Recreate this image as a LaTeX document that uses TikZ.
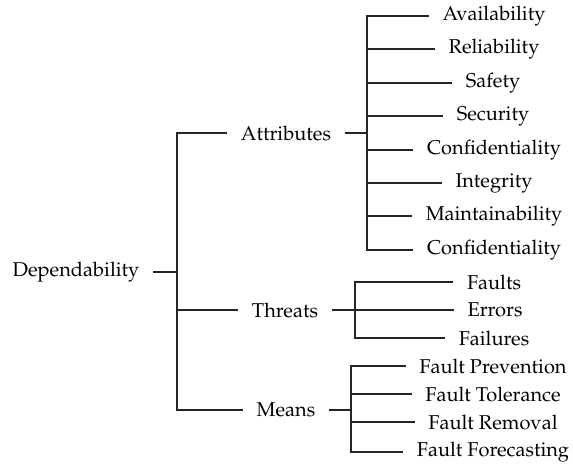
\documentclass[tikz,border=0pt]{standalone}
\usepackage[T1]{fontenc}
\usepackage{mathpazo}
\begin{document}
\begin{tikzpicture}[x=0.75pt,y=-0.75pt]
\tikzstyle edge=[line width=1.4pt, black!85];
\tikzstyle term=[inner xsep=10pt, inner ysep=2pt, font=\fontsize{15}{18}\selectfont, text=black];
\useasboundingbox (0,0) rectangle (573,463);
% root and main branches
\node[term] (dep) at (76,272) {Dependability};
\node[term] (attr) at (286,133) {Attributes};
\node[term] (threats) at (285,310) {Threats};
\node[term] (means) at (286,410) {Means};
\coordinate (rbar) at (177,272);
\coordinate (abar) at (367,133);
\coordinate (tbar) at (355,310);
\coordinate (mbar) at (351,410);
% attributes
\node[term] (a1) at (494,16) {Availability};
\node[term] (a2) at (494,49) {Reliability};
\node[term] (a3) at (493,83) {Safety};
\node[term] (a4) at (493,116) {Security};
\node[term] (a5) at (494,150) {Confidentiality};
\node[term] (a6) at (494,183) {Integrity};
\node[term] (a7) at (494,216) {Maintainability};
\node[term] (a8) at (494,250) {Confidentiality};
% threats
\node[term] (t1) at (494,282) {Faults};
\node[term] (t2) at (495,310) {Errors};
\node[term] (t3) at (494,338) {Failures};
% means
\node[term] (m1) at (493,366) {Fault Prevention};
\node[term] (m2) at (493,394) {Fault Tolerance};
\node[term] (m3) at (493,422) {Fault Removal};
\node[term] (m4) at (493,452) {Fault Forecasting};
% connectors
\draw[edge] (dep) -- (rbar);
\draw[edge] (attr.west) -| (rbar) |- (means.west);
\draw[edge] (rbar |- threats) -- (threats.west);
\draw[edge] (attr) -- (abar);
\draw[edge] (a1.west) -| (abar) |- (a8.west);
\foreach \n in {a2,a3,a4,a5,a6,a7}
  \draw[edge] (abar |- \n) -- (\n.west);
\draw[edge] (threats) -- (t2);
\draw[edge] (t1.west) -| (tbar) |- (t3.west);
\draw[edge] (means) -- (mbar);
\draw[edge] (m1.west) -| (mbar) |- (m4.west);
\draw[edge] (mbar |- m2) -- (m2.west);
\draw[edge] (mbar |- m3) -- (m3.west);
\end{tikzpicture}
\end{document}
